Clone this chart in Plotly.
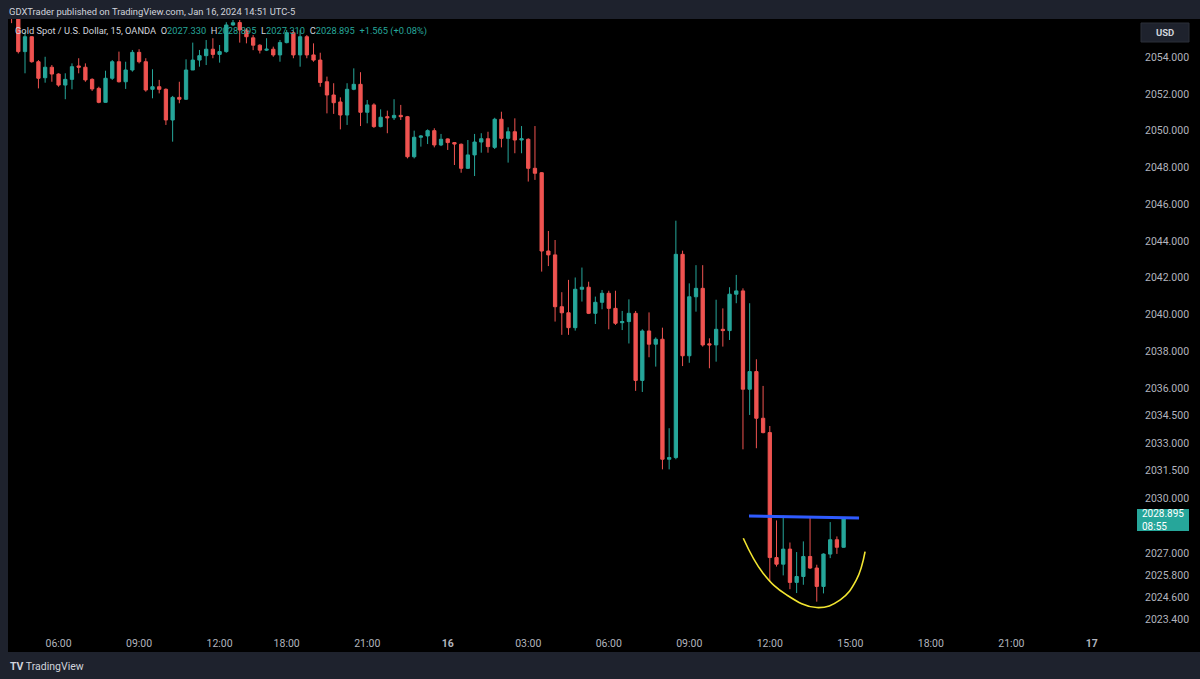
import plotly.graph_objects as go

# ---------------- data (15-min XAUUSD, OANDA) ----------------
# bar position relative to the 00:00 Jan-16 bar
bar_index = list(range(-65, 60))

opens = [2056.90, 2056.20, 2054.30, 2055.11, 2053.75, 2052.88, 2053.45, 2053.08, 2052.48, 2052.79,
         2053.52, 2053.45, 2052.79, 2052.30, 2051.54, 2052.85, 2053.75, 2052.66, 2053.30, 2054.26,
         2053.75, 2052.25, 2052.39, 2052.25, 2050.58, 2051.81, 2051.71, 2053.30, 2053.84, 2054.08,
         2054.43, 2054.15, 2054.30, 2055.75, 2055.88, 2055.48, 2055.05, 2054.65, 2054.38, 2054.43,
         2054.12, 2054.79, 2055.33, 2054.12, 2055.11, 2054.12, 2053.84, 2052.66, 2051.94, 2051.56,
         2050.85, 2052.25, 2052.52, 2051.00, 2051.40, 2050.22, 2050.76, 2050.70, 2050.83, 2050.76,
         2048.58, 2049.64, 2049.71, 2050.00, 2049.22, 2049.55, 2049.35, 2049.26, 2047.95, 2048.68,
         2049.38, 2049.56, 2049.09, 2050.62, 2049.58, 2049.94, 2049.49, 2049.53, 2047.95, 2047.71,
         2043.45, 2043.24, 2040.42, 2040.09, 2039.28, 2041.37, 2041.48, 2040.06, 2040.66, 2041.15,
         2040.33, 2039.55, 2039.61, 2040.06, 2036.41, 2039.10, 2038.38, 2038.65, 2032.12, 2032.21,
         2043.27, 2037.75, 2040.96, 2041.42, 2038.40, 2038.34, 2039.19, 2039.12, 2041.10, 2041.28,
         2035.93, 2036.89, 2034.35, 2033.57, 2026.77, 2026.41, 2027.23, 2025.42, 2025.74, 2026.83,
         2026.20, 2025.20, 2026.96, 2027.74, 2027.33]
highs = [2057.20, 2056.40, 2055.38, 2055.15, 2053.84, 2054.02, 2053.57, 2053.12, 2053.12, 2053.66,
         2053.94, 2053.66, 2052.85, 2052.39, 2053.26, 2053.84, 2054.30, 2053.75, 2054.39, 2054.43,
         2053.94, 2053.34, 2052.76, 2052.30, 2051.89, 2052.66, 2053.88, 2054.79, 2054.39, 2054.93,
         2055.03, 2054.66, 2055.90, 2056.02, 2056.02, 2055.57, 2055.20, 2054.70, 2055.03, 2054.57,
         2054.93, 2055.48, 2055.48, 2055.48, 2055.20, 2054.75, 2054.24, 2052.94, 2052.58, 2051.81,
         2052.58, 2053.39, 2053.18, 2051.67, 2051.49, 2051.16, 2051.09, 2051.71, 2051.40, 2050.80,
         2050.00, 2049.76, 2050.07, 2050.13, 2049.82, 2049.58, 2049.38, 2049.30, 2049.49, 2049.82,
         2049.86, 2049.94, 2050.70, 2051.03, 2050.18, 2050.67, 2050.25, 2049.58, 2050.25, 2047.75,
         2044.54, 2044.05, 2041.21, 2041.88, 2042.01, 2042.55, 2041.78, 2040.97, 2041.33, 2041.29,
         2041.29, 2040.19, 2040.82, 2040.19, 2039.19, 2040.11, 2038.75, 2039.28, 2033.81, 2045.10,
         2043.47, 2041.69, 2042.68, 2042.68, 2038.70, 2040.80, 2040.33, 2041.48, 2042.15, 2041.42,
         2040.61, 2037.56, 2036.11, 2033.93, 2028.79, 2029.05, 2027.59, 2027.07, 2027.65, 2029.00,
         2026.38, 2027.00, 2028.70, 2027.92, 2028.895]
lows = [2055.85, 2054.20, 2053.12, 2053.70, 2052.30, 2052.61, 2052.66, 2052.39, 2051.71, 2052.25,
        2053.12, 2052.66, 2052.16, 2051.49, 2051.52, 2052.76, 2052.62, 2052.27, 2053.21, 2053.66,
        2052.12, 2051.76, 2052.03, 2050.31, 2049.40, 2051.49, 2051.67, 2053.30, 2053.48, 2053.57,
        2053.94, 2053.70, 2054.24, 2055.70, 2054.79, 2054.75, 2054.38, 2054.20, 2054.33, 2054.02,
        2053.75, 2054.75, 2053.94, 2053.48, 2053.94, 2053.75, 2052.39, 2050.94, 2050.91, 2050.07,
        2050.31, 2052.20, 2050.25, 2050.40, 2050.15, 2050.18, 2049.86, 2050.58, 2050.58, 2048.49,
        2048.49, 2049.13, 2049.27, 2049.09, 2049.16, 2048.95, 2048.13, 2047.71, 2047.92, 2047.53,
        2048.80, 2048.80, 2049.00, 2049.09, 2048.26, 2048.77, 2048.77, 2047.23, 2047.32, 2042.33,
        2042.63, 2039.61, 2038.89, 2038.89, 2039.12, 2040.70, 2040.02, 2039.48, 2040.28, 2039.19,
        2039.43, 2039.15, 2038.42, 2035.84, 2035.78, 2037.67, 2037.16, 2031.57, 2031.57, 2032.12,
        2037.19, 2037.37, 2040.15, 2038.25, 2037.07, 2037.43, 2038.25, 2038.61, 2040.61, 2032.66,
        2034.53, 2032.72, 2033.53, 2025.45, 2026.28, 2025.80, 2025.05, 2024.84, 2025.29, 2026.15,
        2024.37, 2024.82, 2026.74, 2026.97, 2027.31]
closes = [2056.40, 2054.30, 2055.11, 2053.75, 2052.85, 2053.45, 2053.08, 2052.48, 2052.79, 2053.48,
          2053.45, 2052.76, 2052.27, 2051.54, 2052.85, 2053.75, 2052.66, 2053.30, 2054.26, 2053.75,
          2052.21, 2052.39, 2052.25, 2050.58, 2051.81, 2051.71, 2053.30, 2053.84, 2054.08, 2054.43,
          2054.15, 2054.30, 2055.75, 2055.87, 2055.48, 2055.11, 2054.65, 2054.38, 2054.43, 2054.12,
          2054.79, 2055.33, 2054.12, 2055.11, 2054.12, 2053.84, 2052.62, 2051.94, 2051.52, 2050.85,
          2052.25, 2052.52, 2051.00, 2051.40, 2050.22, 2050.73, 2050.70, 2050.83, 2050.76, 2048.58,
          2049.64, 2049.71, 2050.00, 2049.22, 2049.53, 2049.35, 2049.27, 2047.95, 2048.68, 2049.38,
          2049.56, 2049.13, 2050.62, 2049.58, 2049.94, 2049.49, 2049.56, 2047.95, 2047.68, 2043.45,
          2043.24, 2040.42, 2040.09, 2039.28, 2041.37, 2041.48, 2040.06, 2040.66, 2041.15, 2040.33,
          2039.52, 2039.61, 2040.06, 2036.41, 2039.10, 2038.38, 2038.65, 2032.12, 2032.21, 2043.27,
          2037.75, 2040.96, 2041.42, 2038.34, 2038.34, 2039.19, 2039.12, 2041.10, 2041.28, 2035.93,
          2036.89, 2034.35, 2033.57, 2026.77, 2026.41, 2027.23, 2025.42, 2025.74, 2026.83, 2026.20,
          2025.20, 2026.96, 2027.74, 2027.33, 2028.895]

time_tick_pos = [-58, -46, -34, -24, -12, 0, 12, 24, 36, 48, 60, 72, 84, 96]
time_tick_text = ["06:00", "09:00", "12:00", "18:00", "21:00", "<b>16</b>", "03:00",
                  "06:00", "09:00", "12:00", "15:00", "18:00", "21:00", "<b>17</b>"]
price_ticks = [2054.0, 2052.0, 2050.0, 2048.0, 2046.0, 2044.0, 2042.0, 2040.0, 2038.0,
               2036.0, 2034.5, 2033.0, 2031.5, 2030.0, 2027.0, 2025.8, 2024.6, 2023.4]
price_tick_text = ["%.3f" % v for v in price_ticks]

# user drawings
neckline_x = [44.9, 61.3]
neckline_y = [2029.03, 2028.92]
cup_x = [44.05, 47.0, 50.5, 55.0, 58.5, 60.9, 62.2]
cup_y = [2027.82, 2025.92, 2024.74, 2024.05, 2024.47, 2025.55, 2027.09]

last_price = 2028.895
countdown = "08:55"

# ---------------- styling ----------------
GREEN = "#26a69a"
RED = "#ef5350"
FRAME = "#1e222d"
AXTXT = "#b2b5be"
FONT = "Roboto, Inter, sans-serif"

W, H = 1200, 679
ML, MR, MT, MB = 8, 68, 19, 47
PW, PH = W - ML - MR, H - MT - MB


def px(xpix):
    return (xpix - ML) / PW


def py(ypix):
    return (H - MB - ypix) / PH


fig = go.Figure()
fig.add_trace(go.Candlestick(
    x=bar_index, open=opens, high=highs, low=lows, close=closes,
    increasing=dict(line=dict(color=GREEN, width=1), fillcolor=GREEN),
    decreasing=dict(line=dict(color=RED, width=1), fillcolor=RED),
    whiskerwidth=0, showlegend=False, hoverinfo="skip"))

fig.add_trace(go.Scatter(x=neckline_x, y=neckline_y, mode="lines",
                         line=dict(color="#2f5bff", width=3), showlegend=False, hoverinfo="skip"))
fig.add_trace(go.Scatter(x=cup_x, y=cup_y, mode="lines",
                         line=dict(color="#f2e530", width=1.6, shape="spline", smoothing=1.2),
                         showlegend=False, hoverinfo="skip"))

shapes = [
    dict(type="rect", xref="paper", yref="paper", x0=0, x1=px(W), y0=py(652), y1=1,
         fillcolor="#000000", line=dict(width=0), layer="below"),
    dict(type="rect", xref="paper", yref="paper", x0=px(1141), x1=px(1189), y0=py(42), y1=py(23),
         fillcolor="#1e222d", line=dict(color="#2a2e39", width=1), layer="above"),
    dict(type="rect", xref="paper", yref="y", x0=px(1137), x1=px(1189),
         y0=last_price - 0.68, y1=last_price + 0.52,
         fillcolor=GREEN, line=dict(width=0), layer="above"),
]

SP = "&nbsp;&nbsp;"
legend_txt = ('<span style="color:#d1d4dc">Gold Spot / U.S. Dollar, 15, OANDA' + SP + 'O</span>'
              '<span style="color:%s">2027.330</span>'
              '<span style="color:#d1d4dc">' + SP + 'H</span><span style="color:%s">2028.895</span>'
              '<span style="color:#d1d4dc">' + SP + 'L</span><span style="color:%s">2027.310</span>'
              '<span style="color:#d1d4dc">' + SP + 'C</span><span style="color:%s">2028.895</span>'
              '<span style="color:%s">' + SP + '+1.565 (+0.08%%)</span>') % (GREEN, GREEN, GREEN, GREEN, GREEN)

annotations = [
    dict(xref="paper", yref="paper", x=px(7), y=py(12), xanchor="left", yanchor="middle",
         text="GDXTrader published on TradingView.com, Jan 16, 2024 14:51 UTC-5",
         showarrow=False, font=dict(family=FONT, size=9.4, color="#d1d4dc")),
    dict(xref="paper", yref="paper", x=px(13), y=py(31), xanchor="left", yanchor="middle",
         text=legend_txt, showarrow=False, font=dict(family=FONT, size=9.3, color="#d1d4dc")),
    dict(xref="paper", yref="paper", x=(px(1141) + px(1189)) / 2, y=py(32.5), xanchor="center",
         yanchor="middle", text="<b>USD</b>", showarrow=False,
         font=dict(family=FONT, size=9.5, color="#d1d4dc")),
    dict(xref="paper", yref="y", x=px(1140), y=last_price - 0.08, xanchor="left", yanchor="middle",
         text="%.3f<br>%s" % (last_price, countdown), showarrow=False, align="left",
         font=dict(family=FONT, size=10, color="#ffffff")),
    dict(xref="paper", yref="paper", x=px(8), y=py(666), xanchor="left", yanchor="middle",
         text="<b>TV</b> TradingView", showarrow=False,
         font=dict(family=FONT, size=10.5, color="#d1d4dc")),
]

fig.update_layout(
    width=W, height=H,
    margin=dict(l=ML, r=MR, t=MT, b=MB, pad=0),
    paper_bgcolor=FRAME, plot_bgcolor="#000000",
    shapes=shapes, annotations=annotations,
    showlegend=False,
    xaxis=dict(range=[-65.535, 101.98], tickmode="array", tickvals=time_tick_pos,
               ticktext=time_tick_text, showgrid=False, zeroline=False, showline=False,
               ticks="", ticklabelstandoff=3, tickfont=dict(family=FONT, size=10.5, color=AXTXT),
               rangeslider=dict(visible=False), fixedrange=True),
    yaxis=dict(range=[2022.72, 2056.075], side="right", tickmode="array", tickvals=price_ticks,
               ticktext=price_tick_text, showgrid=False, zeroline=False, showline=False,
               ticks="", ticklabelstandoff=12,
               tickfont=dict(family=FONT, size=10.5, color=AXTXT), fixedrange=True),
)

fig.write_html("out.html")
